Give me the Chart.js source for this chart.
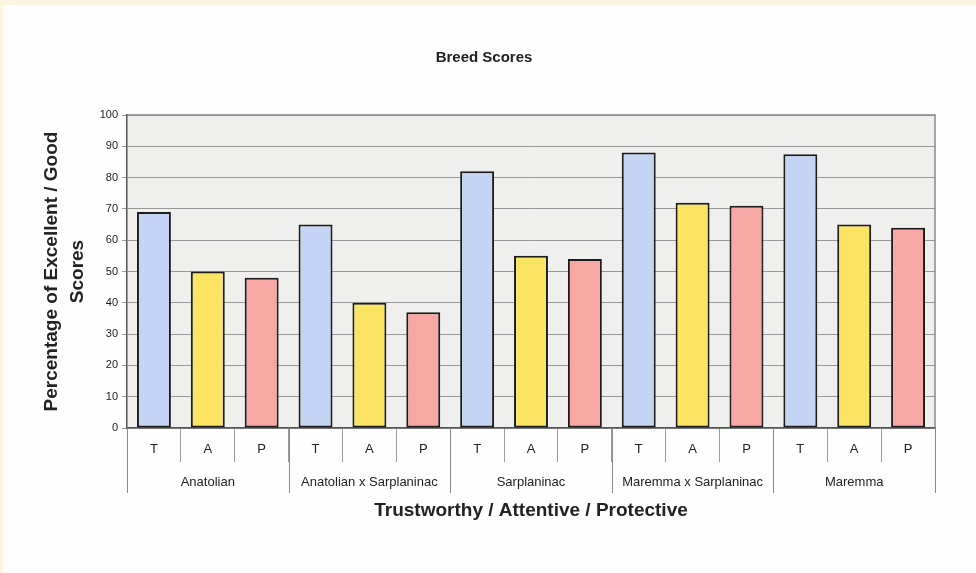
<!DOCTYPE html>
<html>
<head>
<meta charset="utf-8">
<script src="https://cdn.jsdelivr.net/npm/chart.js@4"></script>
<style>
  html, body { margin: 0; padding: 0; background: #fdf4df; }
  canvas { display: block; }
</style>
</head>
<body>
<canvas id="c" width="976" height="573"></canvas>
<script>
// ---- Data ----
const breeds = ['Anatolian', 'Anatolian x Sarplaninac', 'Sarplaninac', 'Maremma x Sarplaninac', 'Maremma'];
const traitLabels = ['T', 'A', 'P'];
const trustworthy = [69, 65, 82, 88, 87.5];
const attentive   = [50, 40, 55, 72, 65];
const protective  = [48, 37, 54, 71, 64];
const yTicks = [0, 10, 20, 30, 40, 50, 60, 70, 80, 90, 100];

const seriesNames = ['Trustworthy', 'Attentive', 'Protective'];
const seriesValues = [trustworthy, attentive, protective];
const seriesColors = ['#c4d4f4', '#fae462', '#f7a8a4'];

const FONT = '"Liberation Sans", Arial, sans-serif';

// Build the 15 category labels (T, A, P for each breed)
const labels = [];
breeds.forEach(() => traitLabels.forEach(t => labels.push(t)));

// Each series occupies one slot inside each breed group
const datasets = seriesValues.map((vals, s) => {
  const data = [];
  breeds.forEach((b, bi) => {
    traitLabels.forEach((t, ti) => data.push(ti === s ? vals[bi] : null));
  });
  return {
    label: seriesNames[s],
    data,
    backgroundColor: seriesColors[s],
    borderColor: '#1c1c1c',
    borderWidth: 2,
    borderSkipped: false,
    skipNull: true,
    categoryPercentage: 1,
    barPercentage: 0.63
  };
});

const pagePlugin = {
  id: 'page',
  beforeDraw(chart) {
    const { ctx, width, height, chartArea } = chart;
    ctx.save();
    ctx.fillStyle = '#fdf4df';
    ctx.fillRect(0, 0, width, height);
    ctx.fillStyle = '#fefefe';
    ctx.fillRect(3, 5, width - 3, height - 5);
    ctx.fillStyle = '#efefed';
    ctx.fillRect(chartArea.left, chartArea.top, chartArea.right - chartArea.left, chartArea.bottom - chartArea.top);
    ctx.restore();
  },
  afterDraw(chart) {
    const { ctx, chartArea } = chart;
    const x = chart.scales.x;
    const n = labels.length;
    const step = (x.right - x.left) / n;
    ctx.save();
    // plot border (top and right)
    ctx.strokeStyle = '#8a8a8a';
    ctx.lineWidth = 1.5;
    ctx.beginPath();
    ctx.moveTo(chartArea.left, chartArea.top);
    ctx.lineTo(chartArea.right, chartArea.top);
    ctx.lineTo(chartArea.right, chartArea.bottom);
    ctx.stroke();
    // group separators
    ctx.strokeStyle = '#8a8a8a';
    ctx.lineWidth = 1;
    for (let g = 0; g <= breeds.length; g++) {
      const px = Math.round(x.left + step * traitLabels.length * g) + 0.5;
      ctx.beginPath();
      ctx.moveTo(px, chartArea.bottom);
      ctx.lineTo(px, chartArea.bottom + 65);
      ctx.stroke();
    }
    // group labels
    ctx.fillStyle = '#222';
    ctx.font = '13px ' + FONT;
    ctx.textAlign = 'center';
    ctx.textBaseline = 'middle';
    breeds.forEach((b, g) => {
      const cx = x.left + step * traitLabels.length * (g + 0.5);
      ctx.fillText(b, cx, chartArea.bottom + 54);
    });
    ctx.restore();
  }
};

new Chart(document.getElementById('c'), {
  type: 'bar',
  data: { labels, datasets },
  options: {
    responsive: false,
    animation: false,
    devicePixelRatio: 1,
    layout: { padding: { left: 0, right: 8, top: 0, bottom: 0 } },
    plugins: {
      legend: { display: false },
      tooltip: { enabled: false },
      title: {
        display: true,
        text: 'Breed Scores',
        color: '#222',
        font: { family: FONT, size: 15, weight: 'bold', lineHeight: 1.2 },
        padding: { top: 49, bottom: 48 }
      }
    },
    scales: {
      x: {
        type: 'category',
        offset: true,
        grid: {
          display: true,
          drawOnChartArea: false,
          drawTicks: true,
          tickLength: 34,
          offset: true,
          color: '#9a9a9a',
          lineWidth: 1
        },
        border: { display: true, color: '#555', width: 1.5 },
        ticks: {
          color: '#222',
          padding: -20,
          autoSkip: false,
          maxRotation: 0,
          font: { family: FONT, size: 13 }
        },
        title: {
          display: true,
          text: 'Trustworthy / Attentive / Protective',
          color: '#222',
          font: { family: FONT, size: 19, weight: 'bold' },
          padding: { top: 0, bottom: 51 }
        },
        afterFit(scale) { scale.height = 145; }
      },
      y: {
        min: 0,
        max: 100,
        afterBuildTicks(scale) { scale.ticks = yTicks.map(v => ({ value: v })); },
        grid: {
          color: '#999',
          lineWidth: 1,
          drawTicks: true,
          tickLength: 5
        },
        border: { display: true, color: '#555', width: 1.5 },
        ticks: {
          color: '#222',
          padding: 4,
          font: { family: FONT, size: 11 }
        },
        title: {
          display: true,
          text: ['Percentage of Excellent / Good', 'Scores'],
          color: '#222',
          font: { family: FONT, size: 19, weight: 'bold', lineHeight: 1.35 },
          padding: { top: 39, bottom: 0 }
        },
        afterFit(scale) { scale.width = 127; }
      },
      yRight: {
        type: 'linear',
        position: 'right',
        display: true,
        min: 0,
        max: 100,
        grid: { display: false, drawTicks: false },
        border: { display: false },
        ticks: { display: false },
        afterFit(scale) { scale.width = 33; }
      }
    }
  },
  plugins: [pagePlugin]
});
</script>
</body>
</html>
